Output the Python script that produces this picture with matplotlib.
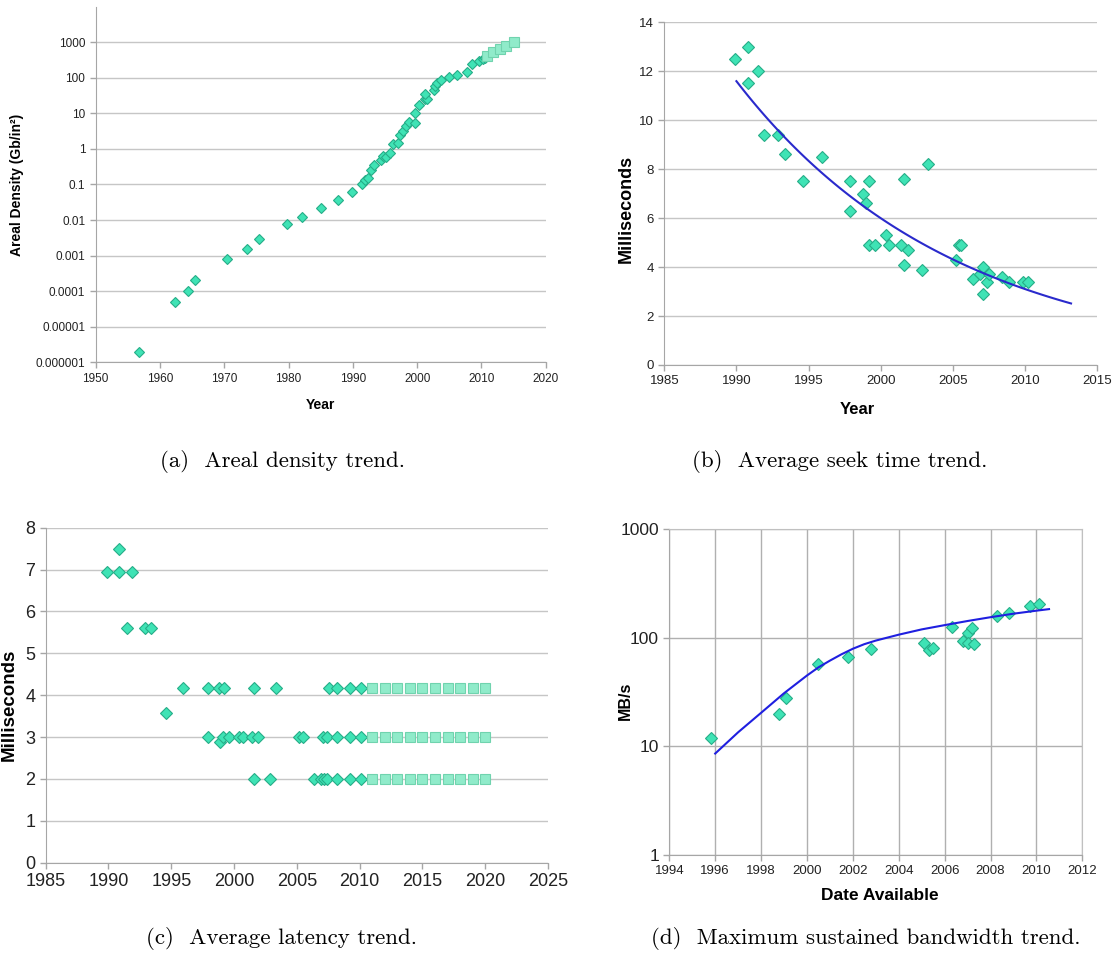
import numpy as np
import matplotlib
matplotlib.use("Agg")
import matplotlib.pyplot as plt

plt.rcParams['font.family'] = ['Liberation Sans', 'DejaVu Sans']

# (a) areal density, Gb/in^2
density_years = [1956.8, 1962.4, 1964.4, 1965.4, 1970.4, 1973.5, 1975.4, 1979.7, 1982.1,
                 1985.1, 1987.7, 1989.8, 1991.4, 1991.9, 1992.4, 1992.8, 1993.3, 1994.4,
                 1994.7, 1995.1, 1995.8, 1996.2, 1997.1, 1997.4, 1997.8, 1998.3, 1998.8,
                 1999.6, 1999.7, 2000.3, 2001.3, 2001.6, 2001.3, 2002.7, 2002.8, 2003.1,
                 2003.7, 2005.0, 2006.2, 2007.7, 2008.5, 2009.7, 2010.2, 2010.6]
density_vals = [2e-6, 5e-5, 1e-4, 2e-4, 8e-4, 1.5e-3, 3e-3, 7.8e-3, 0.012,
                0.022, 0.036, 0.062, 0.105, 0.135, 0.155, 0.26, 0.35, 0.49,
                0.63, 0.6, 0.79, 1.35, 1.45, 2.5, 3.1, 4.3, 5.8,
                5.5, 10, 17, 25, 26, 35, 46, 59, 70,
                87, 104, 121, 149, 240, 302, 340, 355]
density_proj_years = [2010.9, 2011.8, 2012.9, 2013.9, 2015.1]
density_proj_vals = [420, 520, 650, 800, 1000]

# (b) average seek time, ms
seek_years = [1989.9, 1990.8, 1990.8, 1991.5, 1991.9, 1992.9, 1993.4, 1994.6, 1995.9,
              1997.9, 1997.9, 1998.8, 1999.0, 1999.2, 1999.2, 1999.6, 2000.4, 2000.6,
              2001.4, 2001.6, 2001.6, 2001.9, 2002.9, 2003.3, 2005.2, 2005.4, 2005.6,
              2006.4, 2006.9, 2007.1, 2007.1, 2007.4, 2007.5, 2008.4, 2008.9, 2009.9, 2010.2]
seek_ms = [12.5, 13.0, 11.5, 12.0, 9.4, 9.4, 8.6, 7.5, 8.5,
           7.5, 6.3, 7.0, 6.6, 7.5, 4.9, 4.9, 5.3, 4.9,
           4.9, 7.6, 4.1, 4.7, 3.9, 8.2, 4.3, 4.9, 4.9,
           3.5, 3.7, 4.0, 2.9, 3.4, 3.7, 3.6, 3.4, 3.4, 3.4]

# (c) average rotational latency, ms
lat_years = [1989.9, 1990.8, 1990.8, 1991.9, 1991.5, 1992.9, 1993.4, 1994.6, 1995.9,
             1997.9, 1997.9, 1998.8, 1999.2, 1998.9, 1999.1, 1999.6, 2000.4, 2000.7,
             2001.4, 2001.6, 2001.6, 2001.9, 2002.9, 2003.3, 2005.2, 2005.5,
             2007.6, 2008.2, 2009.2, 2010.1,
             2007.1, 2007.4, 2008.2, 2009.2, 2010.1,
             2006.4, 2006.9, 2007.2, 2007.4, 2008.2, 2009.2, 2010.1]
lat_ms = [6.95, 6.95, 7.5, 6.95, 5.6, 5.6, 5.6, 3.57, 4.17,
          4.17, 3.0, 4.17, 4.17, 2.89, 3.0, 3.0, 3.0, 3.0,
          3.0, 4.17, 2.0, 3.0, 2.0, 4.17, 3.0, 3.0,
          4.17, 4.17, 4.17, 4.17,
          3.0, 3.0, 3.0, 3.0, 3.0,
          2.0, 2.0, 2.0, 2.0, 2.0, 2.0, 2.0]
lat_proj_years = list(range(2011, 2021))
lat_proj_levels = [4.17, 3.0, 2.0]

# (d) maximum sustained bandwidth, MB/s
bw_years = [1995.8, 1998.8, 1999.1, 2000.5, 2001.8, 2002.8, 2005.1, 2005.3, 2005.5,
            2006.3, 2006.8, 2007.0, 2007.0, 2007.2, 2007.3, 2008.3, 2008.8, 2009.7, 2010.1]
bw_mbps = [12, 20, 27.7, 57, 67, 79, 89, 77, 80,
           125, 93, 111, 89, 124, 88, 160, 170, 196, 203]
bw_trend_years = [1996.0, 1997, 1998, 1999, 2000, 2000.5, 2001, 2001.5, 2002, 2002.5,
                  2003, 2004, 2005, 2006, 2007, 2008, 2009, 2010, 2010.55]
bw_trend_mbps = [8.6, 13.5, 20.4, 30.9, 45, 53.5, 61.7, 70.5, 79.4, 87.5,
                 94.4, 107, 119.7, 131, 143, 155, 167, 178, 184]

W, H = 1115, 956
DIA = dict(marker='D', linestyle='none', markerfacecolor='#3fe3b5',
           markeredgecolor='#26ad88', markeredgewidth=0.8)
SQ = dict(marker='s', linestyle='none', markerfacecolor='#90ebca',
          markeredgecolor='#70d3ae', markeredgewidth=0.8)
SPINE = '#a6a6a6'
GRID = '#c6c6c6'


def px_axes(fig, left, top, right, bottom):
    return fig.add_axes([left / W, 1 - bottom / H, (right - left) / W, (bottom - top) / H])


def style(ax, tick_size):
    for s in ['top', 'right']:
        ax.spines[s].set_visible(False)
    for s in ['left', 'bottom']:
        ax.spines[s].set_color(SPINE)
    ax.tick_params(colors=SPINE, labelcolor='#222222', labelsize=tick_size,
                   length=4, width=1, direction='out')
    ax.tick_params(which='minor', length=0)
    ax.set_axisbelow(True)


fig = plt.figure(figsize=(W / 100, H / 100), dpi=100)

# (a)
ax = px_axes(fig, 95.7, 7, 545.7, 362.3)
ax.set_yscale('log')
ax.set_xlim(1950, 2020)
ax.set_ylim(1e-6, 9800)
ax.set_xticks(range(1950, 2021, 10))
yt = [1e-6, 1e-5, 1e-4, 1e-3, 1e-2, 0.1, 1, 10, 100, 1000]
ax.set_yticks(yt)
ax.set_yticklabels(['0.000001', '0.00001', '0.0001', '0.001', '0.01', '0.1', '1', '10', '100', '1000'])
ax.yaxis.set_minor_locator(matplotlib.ticker.NullLocator())
ax.grid(axis='y', color=GRID, linewidth=1)
style(ax, 8.5)
ax.plot(density_years, density_vals, markersize=5, **DIA)
ax.plot(density_proj_years, density_proj_vals, markersize=6.5, **SQ)
ax.set_ylabel('Areal Density (Gb/in²)', fontsize=10, fontweight='bold', va='center')
ax.yaxis.set_label_coords(-0.175, 0.498)
ax.set_xlabel('Year', fontsize=10, fontweight='bold', va='center')
ax.xaxis.set_label_coords(0.5, -0.12)

# (b)
ax = px_axes(fig, 664.3, 22.3, 1097, 365)
ax.set_xlim(1985, 2015)
ax.set_ylim(0, 14)
ax.set_xticks(range(1985, 2016, 5))
ax.set_yticks(range(0, 15, 2))
ax.grid(axis='y', color=GRID, linewidth=1)
style(ax, 9.5)
ax.plot(seek_years, seek_ms, markersize=6.5, **DIA)
k, b = np.polyfit(seek_years, np.log(seek_ms), 1)
tx = np.linspace(1990, 2013.2, 100)
ax.plot(tx, np.exp(k * tx + b), color='#2a2acc', linewidth=1.5)
ax.set_ylabel('Milliseconds', fontsize=13, fontweight='bold', va='center')
ax.yaxis.set_label_coords(-0.087, 0.455)
ax.set_xlabel('Year', fontsize=12, fontweight='bold', va='center')
ax.xaxis.set_label_coords(0.447, -0.131)

# (c)
ax = px_axes(fig, 45.7, 527.7, 548, 862.7)
ax.set_xlim(1985, 2025)
ax.set_ylim(0, 8)
ax.set_xticks(range(1985, 2026, 5))
ax.set_yticks(range(0, 9))
ax.grid(axis='y', color=GRID, linewidth=1)
style(ax, 13)
ax.plot(lat_years, lat_ms, markersize=6.5, **DIA)
for lvl in lat_proj_levels:
    ax.plot(lat_proj_years, [lvl] * len(lat_proj_years), markersize=7.5, **SQ)
ax.set_ylabel('Milliseconds', fontsize=13.5, fontweight='bold', va='center')
ax.yaxis.set_label_coords(-0.073, 0.472)

# (d)
ax = px_axes(fig, 669.3, 529.3, 1082.3, 855)
ax.set_yscale('log')
ax.set_xlim(1994, 2012)
ax.set_ylim(1, 1000)
ax.set_xticks(range(1994, 2013, 2))
ax.set_yticks([1, 10, 100, 1000])
ax.set_yticklabels(['1', '10', '100', '1000'])
ax.yaxis.set_minor_locator(matplotlib.ticker.NullLocator())
ax.grid(color='#b0b0b0', linewidth=1)
style(ax, 12.5)
ax.tick_params(axis='x', labelsize=9.5)
for s in ['top', 'right']:
    ax.spines[s].set_visible(True)
    ax.spines[s].set_color('#c0c0c0')
ax.plot(bw_years, bw_mbps, markersize=6.5, **DIA)
ax.plot(bw_trend_years, bw_trend_mbps, color='#1f1fe0', linewidth=1.5)
ax.set_ylabel('MB/s', fontsize=11.5, fontweight='bold', va='center')
ax.yaxis.set_label_coords(-0.106, 0.474)
ax.set_xlabel('Date Available', fontsize=12.5, fontweight='bold', va='center')
ax.xaxis.set_label_coords(0.51, -0.123)

# captions
cap = dict(family='cmr10', fontsize=16.5, ha='center', va='center')
fig.text(282 / W, 1 - 462 / H, '(a)  Areal density trend.', **cap)
fig.text(840 / W, 1 - 462 / H, '(b)  Average seek time trend.', **cap)
fig.text(282 / W, 1 - 938 / H, '(c)  Average latency trend.', **cap)
fig.text(866 / W, 1 - 938 / H, '(d)  Maximum sustained bandwidth trend.', **cap)

fig.savefig('out.png', dpi=100)
